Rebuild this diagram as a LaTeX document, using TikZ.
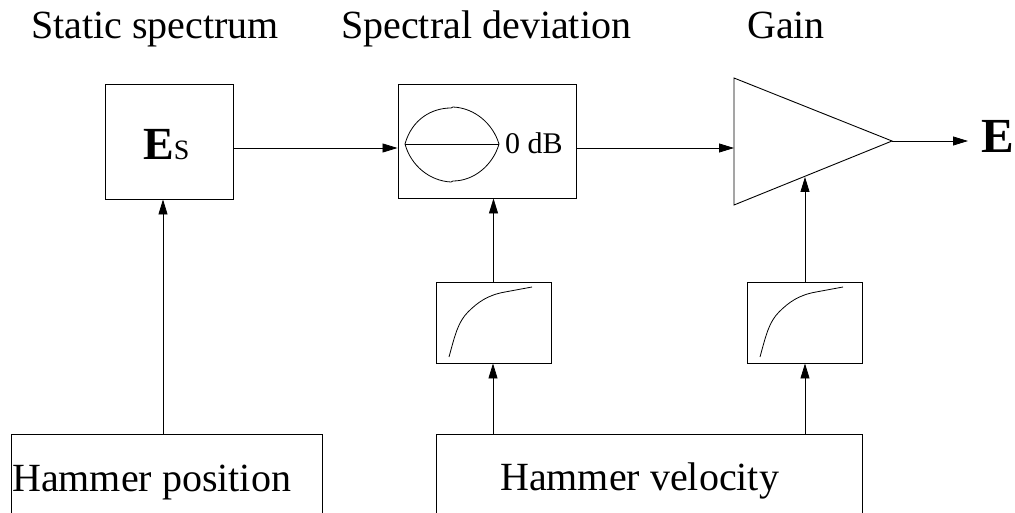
\documentclass[tikz,border=0pt]{standalone}
\usepackage{fontspec}
\setmainfont{Liberation Serif}
\usetikzlibrary{arrows.meta}
\tikzset{
  blk/.style={draw, line width=0.9pt, inner sep=0pt},
  arr/.style={line width=0.8pt, -{Triangle[length=15pt,width=9pt]}},
  txt/.style={inner sep=0pt, anchor=base west, font=\fontsize{40}{48}\selectfont},
  curve/.style={line width=0.8pt},
}
\begin{document}
\begin{tikzpicture}[x=1pt,y=-1pt]
\useasboundingbox (0,0) rectangle (1015,513);
% titles
\node[txt] (t1) at (31,39) {Static spectrum};
\node[txt] (t2) at (341,39) {Spectral deviation};
\node[txt] (t3) at (747,39) {Gain};
% static spectrum box
\node[blk, minimum width=128pt, minimum height=115pt] (es) at (169,141.5) {};
\node[inner sep=0pt, anchor=base west] (estxt) at (143,159.3)
  {\fontsize{46}{50}\selectfont\textbf{E}\fontsize{28}{30}\selectfont S};
% spectral deviation box
\node[blk, minimum width=178pt, minimum height=114pt] (sd) at (487,141) {};
\draw[curve] (405,144) .. controls (412,119) and (432,108) .. (451,108)
  -- (453,107) .. controls (475,108) and (493,124) .. (499,144)
  .. controls (493,165) and (474,181) .. (453,181)
  -- (451,182) .. controls (430,181) and (411,166) .. (405,144) -- cycle;
\draw[curve] (405,144) -- (499,144);
\node[inner sep=0pt, anchor=base west, font=\fontsize{30}{34}\selectfont] (db) at (505,154) {0 dB};
% gain triangle
\coordinate (gtop) at (734,78);
\coordinate (gbl) at (734,205);
\coordinate (gapex) at (892,141);
\draw[line width=0.9pt] (gtop) -- (gapex) -- (gbl) -- cycle;
\coordinate (gin) at (734,148);
\coordinate (gbot) at (805,177);
% output
\coordinate (eend) at (968,141);
\node[inner sep=0pt, anchor=base west] (eout) at (981,152.3)
  {\fontsize{49}{52}\selectfont\textbf{E}};
% small curve boxes
\node[blk, minimum width=115pt, minimum height=81pt] (c1) at (493.5,322.5) {};
\draw[curve] (449,357) .. controls (455,335) and (458,322) .. (468,312)
  .. controls (478,302) and (488,295) .. (505,292) -- (532,287);
\node[blk, minimum width=115pt, minimum height=81pt] (c2) at (805,322.5) {};
\draw[curve] (760,357) .. controls (766,335) and (769,322) .. (779,312)
  .. controls (789,302) and (799,295) .. (816,292) -- (843,287);
% bottom boxes (cut off at bottom)
\draw[line width=0.9pt] (11,513) -- (11,434) -- (322,434) -- (322,513);
\node[txt] (hp) at (12,491.7) {Hammer position};
\coordinate (hptop) at (163,434);
\draw[line width=0.9pt] (436,513) -- (436,434) -- (862,434) -- (862,513);
\node[txt] (hv) at (500,490) {Hammer velocity};
\coordinate (hv1) at (493,434);
\coordinate (hv2) at (805,434);
% connectors
\draw[arr] (es.east |- 0,148) -- (sd.west |- 0,148);
\draw[arr] (sd.east |- 0,148) -- (gin);
\draw[arr] (gapex) -- (eend);
\draw[arr] (hptop) -- (es.south -| hptop);
\draw[arr] (c1.north) -- (sd.south -| c1.north);
\draw[arr] (hv1) -- (c1.south -| hv1);
\draw[arr] (c2.north) -- (gbot);
\draw[arr] (hv2) -- (c2.south -| hv2);
\end{tikzpicture}
\end{document}
